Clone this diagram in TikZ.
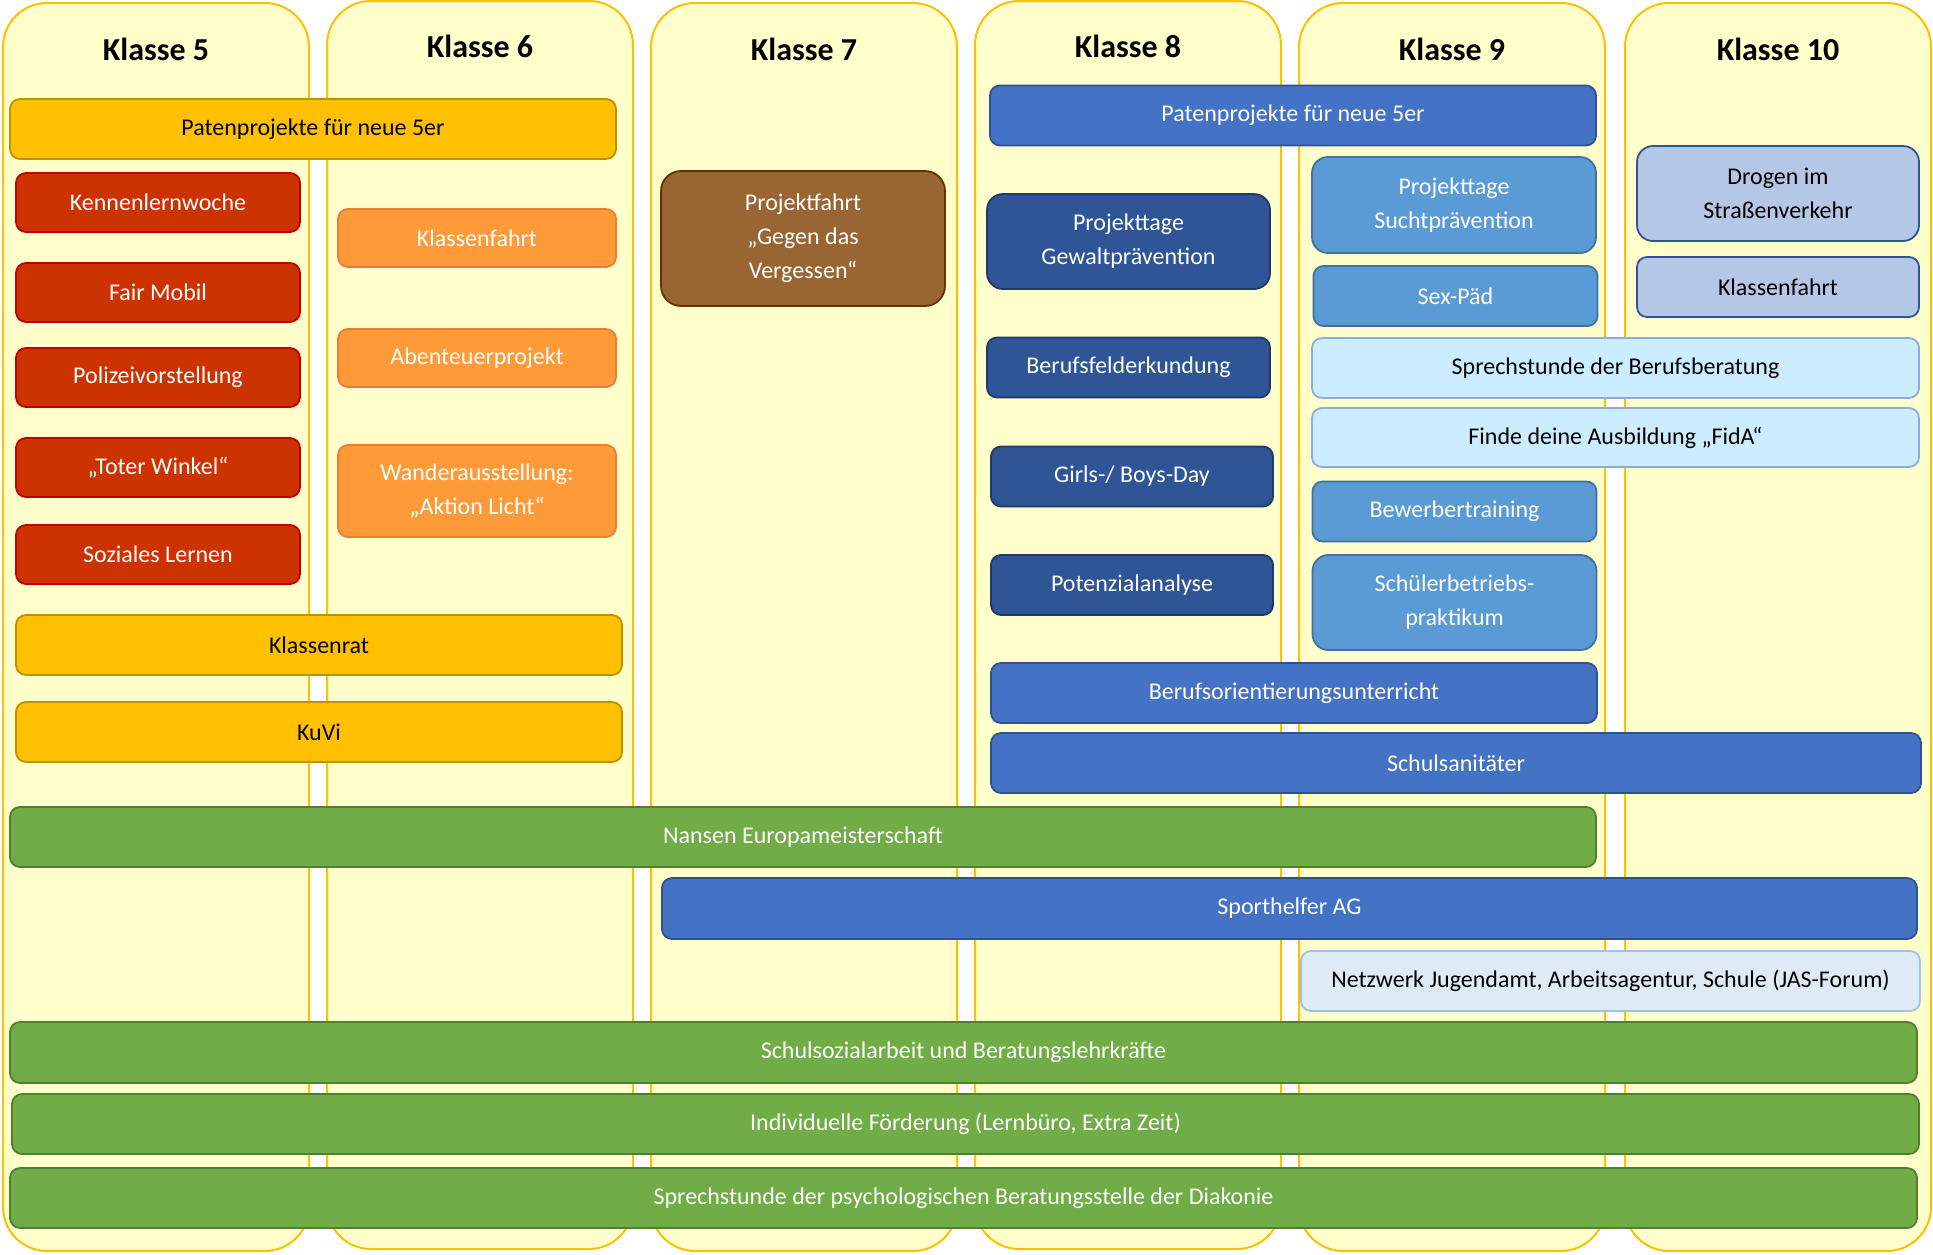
\documentclass[tikz,border=0pt]{standalone}
\usepackage{fontspec}
\setmainfont{Carlito}
\usetikzlibrary{positioning}
\definecolor{hellgelb}{HTML}{FFFFCC}
\definecolor{goldrand}{HTML}{FFC000}
\definecolor{gelb}{HTML}{FFC000}
\definecolor{gelbrand}{HTML}{BF9000}
\definecolor{rot}{HTML}{CC3300}
\definecolor{rotrand}{HTML}{C00000}
\definecolor{orange}{HTML}{FF9A38}
\definecolor{orangerand}{HTML}{ED7D31}
\definecolor{braun}{HTML}{996633}
\definecolor{braunrand}{HTML}{663300}
\definecolor{blau}{HTML}{4472C4}
\definecolor{blaurand}{HTML}{2F528F}
\definecolor{dunkelblau}{HTML}{2F5597}
\definecolor{dunkelblaurand}{HTML}{203864}
\definecolor{mittelblau}{HTML}{5B9BD5}
\definecolor{mittelblaurand}{HTML}{41719C}
\definecolor{lila}{HTML}{B4C7E7}
\definecolor{lilarand}{HTML}{2F5597}
\definecolor{himmel}{HTML}{CCECFF}
\definecolor{himmelrand}{HTML}{8FAADC}
\definecolor{blass}{HTML}{DEEBF7}
\definecolor{blassrand}{HTML}{9DC3E6}
\definecolor{gruen}{HTML}{70AD47}
\definecolor{gruenrand}{HTML}{507E32}
\tikzset{
    wh/.style 2 args = {minimum width=#1*0.5pt, minimum height=#2*0.5pt},
    klasse/.style = {rectangle, rounded corners=22pt, draw=goldrand, line width=1pt, fill=hellgelb, inner sep=0pt},
    kopf/.style = {inner sep=0pt, font=\fontsize{16}{19}\selectfont\bfseries},
    box/.style = {rectangle, rounded corners=5pt, line width=0.9pt, inner sep=0pt, align=center, font=\fontsize{12}{17}\selectfont},
    boxgelb/.style = {box, fill=gelb, draw=gelbrand, text=black},
    boxrot/.style = {box, fill=rot, draw=rotrand, text=white},
    boxorange/.style = {box, fill=orange, draw=orangerand, text=white},
    boxbraun/.style = {box, fill=braun, draw=braunrand, text=white, rounded corners=10pt},
    boxblau/.style = {box, fill=blau, draw=blaurand, text=white},
    boxdunkel/.style = {box, fill=dunkelblau, draw=dunkelblaurand, text=white},
    boxmittel/.style = {box, fill=mittelblau, draw=mittelblaurand, text=white},
    boxlila/.style = {box, fill=lila, draw=lilarand, text=black},
    boxhimmel/.style = {box, fill=himmel, draw=himmelrand, text=black},
    boxblass/.style = {box, fill=blass, draw=blassrand, text=black},
    boxgruen/.style = {box, fill=gruen, draw=gruenrand, text=white}
}
\begin{document}
\begin{tikzpicture}[x=0.5pt, y=-0.5pt]
\useasboundingbox (0,0) rectangle (1933,1254);
%
% Spalten
\node[klasse, wh={306}{1248}] at (156,627) (k5) {};
\node[klasse, wh={306}{1248}] at (480,625) (k6) {};
\node[klasse, wh={306}{1248}] at (804,627) (k7) {};
\node[klasse, wh={306}{1248}] at (1128,625) (k8) {};
\node[klasse, wh={306}{1248}] at (1452,627) (k9) {};
\node[klasse, wh={306}{1248}] at (1778,627) (k10) {};
\node[kopf] at (156,49) (t5) {Klasse 5};
\node[kopf] at (480,46) (t6) {Klasse 6};
\node[kopf] at (804,49) (t7) {Klasse 7};
\node[kopf] at (1128,46) (t8) {Klasse 8};
\node[kopf] at (1452,49) (t9) {Klasse 9};
\node[kopf] at (1778,49) (t10) {Klasse 10};
%
% Klasse 5 und 6
\node[boxgelb, wh={606}{60}] at (313,129) (paten5) {Patenprojekte für neue 5er};
\node[boxrot, wh={284}{59}] at (158,202.5) (kennen) {Kennenlernwoche};
\node[boxrot, wh={284}{59}] at (158,292.5) (fair) {Fair Mobil};
\node[boxrot, wh={284}{59}] at (158,377.5) (polizei) {Polizeivorstellung};
\node[boxrot, wh={284}{59}] at (158,467.5) (winkel) {„Toter Winkel“};
\node[boxrot, wh={284}{59}] at (158,554.5) (sozial) {Soziales Lernen};
\node[boxorange, wh={278}{58}] at (477,238) (fahrt6) {Klassenfahrt};
\node[boxorange, wh={278}{58}] at (477,358) (abenteuer) {Abenteuerprojekt};
\node[boxorange, wh={278}{92}] at (477,491) (wander) {Wanderausstellung:\\„Aktion Licht“};
\node[boxgelb, wh={606}{60}] at (319,645) (rat) {Klassenrat};
\node[boxgelb, wh={606}{60}] at (319,732) (kuvi) {KuVi};
%
% Klasse 7 und 8
\node[boxbraun, wh={284}{135}] at (803,238.5) (projektfahrt) {Projektfahrt\\„Gegen das\\Vergessen“};
\node[boxblau, wh={606}{60}] at (1293,115.5) (paten8) {Patenprojekte für neue 5er};
\node[boxdunkel, wh={283}{95}, rounded corners=8pt] at (1128.5,241.5) (gewalt) {Projekttage\\Gewaltprävention};
\node[boxdunkel, wh={283}{60}] at (1128.5,367.5) (erkundung) {Berufsfelderkundung};
\node[boxdunkel, wh={282}{60}] at (1132,476.5) (girls) {Girls-/ Boys-Day};
\node[boxdunkel, wh={282}{60}] at (1132,585) (potenzial) {Potenzialanalyse};
%
% Klasse 9 und 10
\node[boxmittel, wh={284}{96}, rounded corners=8pt] at (1454,205) (sucht) {Projekttage\\Suchtprävention};
\node[boxmittel, wh={284}{60}] at (1455.5,296) (sexpaed) {Sex-Päd};
\node[boxmittel, wh={284}{60}] at (1454.5,511.5) (bewerber) {Bewerbertraining};
\node[boxmittel, wh={284}{95}, rounded corners=8pt] at (1454.5,602.5) (praktikum) {Schülerbetriebs-\\praktikum};
\node[boxlila, wh={282}{95}, rounded corners=8pt] at (1778,193.5) (drogen) {Drogen im\\Straßenverkehr};
\node[boxlila, wh={282}{60}] at (1778,287) (fahrt10) {Klassenfahrt};
\node[boxhimmel, wh={607}{60}] at (1615.5,368) (beratung) {Sprechstunde der Berufsberatung};
\node[boxhimmel, wh={607}{59}] at (1615.5,437.5) (fida) {Finde deine Ausbildung „FidA“};
%
% lange Balken
\node[boxblau, wh={606}{60}] at (1294,693) (unterricht) {Berufsorientierungsunterricht};
\node[boxblau, wh={930}{60}] at (1456,763) (sani) {Schulsanitäter};
\node[boxgruen, wh={1586}{60}] at (803,837) (nansen) {Nansen Europameisterschaft};
\node[boxblau, wh={1255}{61}] at (1289.5,908.5) (sport) {Sporthelfer AG};
\node[boxblass, wh={619}{60}] at (1610.5,981) (netzwerk) {Netzwerk Jugendamt, Arbeitsagentur, Schule (JAS-Forum)};
\node[boxgruen, wh={1907}{61}] at (963.5,1052.5) (schulsozial) {Schulsozialarbeit und Beratungslehrkräfte};
\node[boxgruen, wh={1907}{60}] at (965.5,1124) (foerderung) {Individuelle Förderung (Lernbüro, Extra Zeit)};
\node[boxgruen, wh={1907}{60}] at (963.5,1198) (diakonie) {Sprechstunde der psychologischen Beratungsstelle der Diakonie};
\end{tikzpicture}
\end{document}
